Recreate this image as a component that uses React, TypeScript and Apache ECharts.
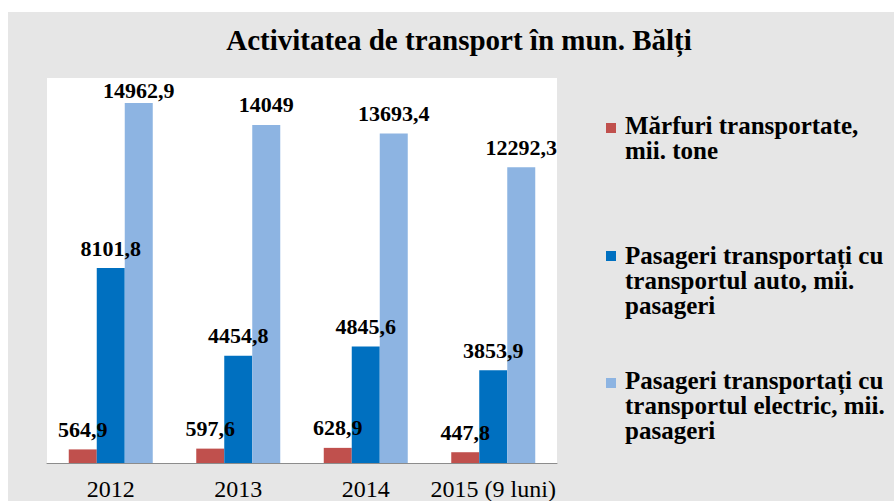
import React, { useEffect, useRef } from "react";
import * as echarts from "echarts";

const titleText = "Activitatea de transport în mun. Bălți";
const categories = ["2012", "2013", "2014", "2015 (9 luni)"];
const seriesNames = [
  "Mărfuri transportate,\nmii. tone",
  "Pasageri transportați cu\ntransportul auto, mii.\npasageri",
  "Pasageri transportați cu\ntransportul electric, mii.\npasageri",
];
const marfuri = [564.9, 597.6, 628.9, 447.8];
const pasageriAuto = [8101.8, 4454.8, 4845.6, 3853.9];
const pasageriElectric = [14962.9, 14049, 13693.4, 12292.3];
const colors = ["#C0504D", "#0070C0", "#8DB4E2"];

const SERIF = "'Liberation Serif', 'Times New Roman', serif";

export default function App() {
  const ref = useRef<HTMLDivElement>(null);
  useEffect(() => {
    if (!ref.current) return;
    const chart = echarts.init(ref.current, null, { renderer: "svg" });
    const fmt = (p: any) => String(p.value).replace(".", ",");
    const labelBase = {
      show: true,
      position: "top",
      distance: 9,
      color: "#000",
      fontFamily: SERIF,
      fontWeight: "bold",
      fontSize: 22,
      formatter: fmt,
    };
    const allData = [marfuri, pasageriAuto, pasageriElectric];
    const series = allData.map((arr, si) => ({
      type: "bar",
      name: seriesNames[si],
      barWidth: 28,
      barGap: "0%",
      itemStyle: { color: colors[si] },
      label: labelBase,
      data: arr.map((v, i) =>
        si === 2 && i === 0 ? { value: v, label: { distance: 1 } } : v
      ),
    }));
    const legendTops = [101.4, 231.4, 356.4];
    const markerTops = [111, 239, 366];
    const legendGraphics: any[] = [];
    seriesNames.forEach((n, i) => {
      legendGraphics.push({
        type: "rect",
        shape: { x: 598, y: markerTops[i], width: 10, height: 10 },
        style: { fill: colors[i] },
      });
      legendGraphics.push({
        type: "text",
        x: 617,
        y: legendTops[i],
        style: {
          text: n,
          fill: "#000",
          font: `bold 25px ${SERIF}`,
          lineHeight: 25,
          verticalAlign: "top",
          align: "left",
        },
      });
    });
    chart.setOption({
      animation: false,
      backgroundColor: "transparent",
      title: {
        text: titleText,
        left: 451,
        top: 13,
        padding: 0,
        textAlign: "center",
        textStyle: {
          fontFamily: SERIF,
          fontWeight: "bold",
          fontSize: 29,
          color: "#000",
          lineHeight: 29,
        },
      },
      grid: {
        left: 39,
        right: 337,
        top: 66,
        bottom: 34,
        show: true,
        backgroundColor: "#ffffff",
        borderWidth: 0,
      },
      xAxis: {
        type: "category",
        data: categories,
        axisLine: { show: true, lineStyle: { color: "#8c8c8c", width: 1 } },
        axisTick: { show: false },
        axisLabel: {
          margin: 14,
          color: "#000",
          fontFamily: SERIF,
          fontSize: 24,
          interval: 0,
        },
      },
      yAxis: {
        type: "value",
        min: 0,
        max: 16000,
        show: false,
        splitLine: { show: false },
      },
      graphic: legendGraphics,
      series,
    });
    return () => chart.dispose();
  }, []);
  return (
    <div
      style={{
        position: "fixed",
        left: 8,
        top: 12,
        width: 886,
        height: 489,
        background: "#e6e6e6",
        overflow: "hidden",
      }}
    >
      <div ref={ref} style={{ width: 886, height: 489 }} />
    </div>
  );
}
